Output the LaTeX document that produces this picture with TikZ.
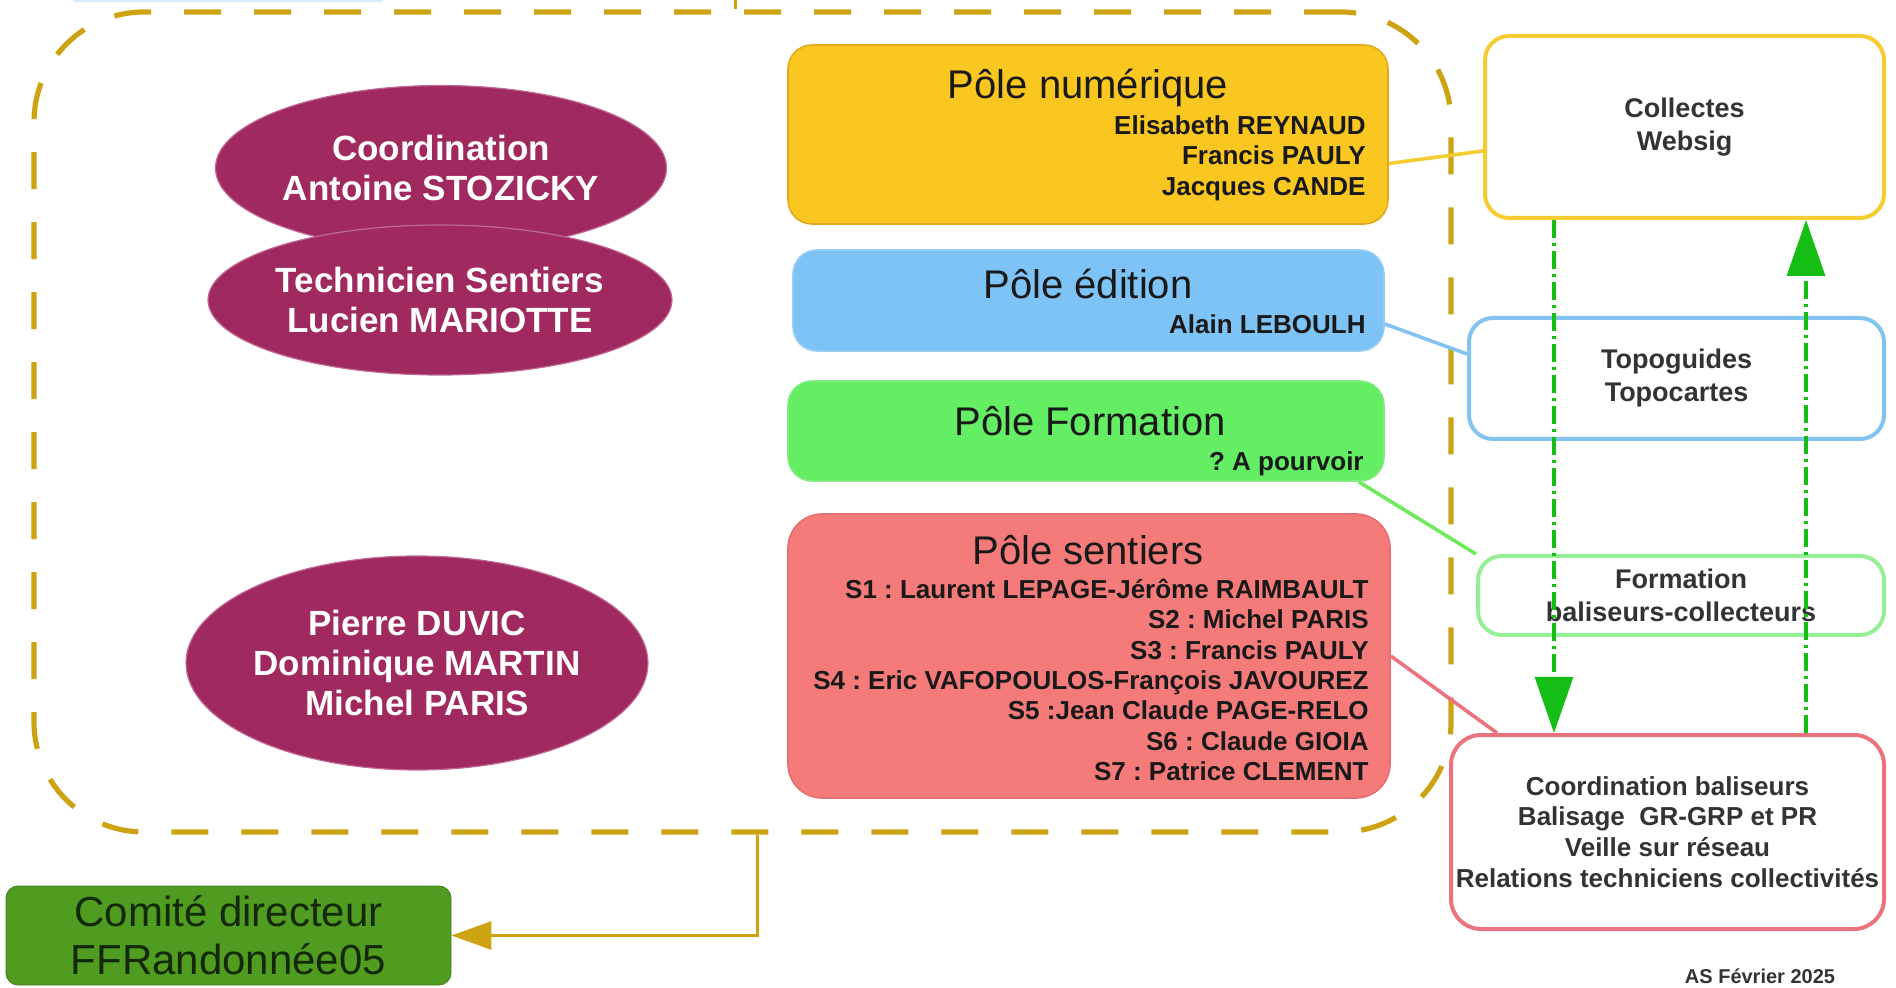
\documentclass[tikz,border=0pt]{standalone}
\usepackage{fontspec}
\setmainfont{Liberation Sans}
\usetikzlibrary{shapes.geometric,arrows.meta,calc}
\frenchspacing

\definecolor{teamgold}{RGB}{205,163,20}
\definecolor{plum}{RGB}{160,42,96}
\definecolor{plumedge}{RGB}{190,105,150}
\definecolor{numfill}{RGB}{250,199,32}
\definecolor{numdraw}{RGB}{222,170,30}
\definecolor{edfill}{RGB}{125,195,245}
\definecolor{eddraw}{RGB}{150,205,245}
\definecolor{formfill}{RGB}{100,238,100}
\definecolor{formdraw}{RGB}{130,235,130}
\definecolor{formlink}{RGB}{110,235,90}
\definecolor{sentfill}{RGB}{245,122,122}
\definecolor{sentdraw}{RGB}{230,110,110}
\definecolor{taskyellow}{RGB}{245,205,50}
\definecolor{taskblue}{RGB}{130,195,240}
\definecolor{taskgreen}{RGB}{150,238,150}
\definecolor{taskpink}{RGB}{235,115,125}
\definecolor{arrowgreen}{RGB}{20,190,20}
\definecolor{comitefill}{RGB}{80,156,32}
\definecolor{comitetext}{RGB}{20,40,10}
\definecolor{topblue}{RGB}{215,235,252}

\begin{document}
\begin{tikzpicture}[x=0.5pt,y=0.5pt,yscale=-1,
	teambox/.style={draw=teamgold, rounded corners=55pt, line width=2.6pt, dash pattern=on 18.5pt off 16.5pt},
	pole/.style={draw, rounded corners=12pt, line width=0.8pt, inner sep=0pt},
	poletitle/.style={font=\fontsize{20}{24}\selectfont, text=black!90, inner sep=0pt},
	names/.style={font=\bfseries\fontsize{13}{15.2}\selectfont, align=right, anchor=east, inner sep=0pt, text=black!90},
	people/.style={ellipse, fill=plum, draw=plumedge, line width=0.6pt, text=white, font=\bfseries\fontsize{17.5}{20}\selectfont, align=center, inner sep=0pt},
	task/.style={draw, fill=white, rounded corners=12pt, line width=2pt, align=center, font=\bfseries\fontsize{13.5}{16.5}\selectfont, text=black!80, inner sep=0pt},
	link/.style={line width=1.8pt},
	flow/.style={draw=arrowgreen, line width=1.6pt, dash pattern=on 9pt off 2.5pt on 1.5pt off 2.5pt, -{Triangle[length=28pt,width=19pt]}},
	goldline/.style={draw=teamgold, line width=1.5pt}]
	\useasboundingbox (0,0) rectangle (1896,988);
	\fill[topblue] (73,0) rectangle (383,2.5);

	% equipe
	\node[teambox, minimum width=708.5pt, minimum height=410pt] (team) at (742.5,422) {};
	\coordinate (topin) at (735,0);
	\draw[goldline] (topin) -- (topin |- team.north);

	\node[people, minimum width=225.5pt, minimum height=82.5pt] (coord1) at (441,168) {Coordination\\Antoine STOZICKY};
	\node[people, minimum width=231pt, minimum height=75pt] (tech) at (440,300) {Technicien Sentiers\\Lucien MARIOTTE};
	\node[people, minimum width=230pt, minimum height=107pt] (membres) at (417,663) {Pierre DUVIC\\Dominique MARTIN\\Michel PARIS};

	% poles
	\node[pole, fill=numfill, draw=numdraw, minimum width=300pt, minimum height=89.5pt] (num) at (1088,134.5) {};
	\node[poletitle] (numtitle) at (1088,88) {Pôle numérique};
	\node[names] (numnames) at (1366,158) {Elisabeth REYNAUD\\Francis PAULY\\Jacques CANDE};

	\node[pole, fill=edfill, draw=eddraw, minimum width=295.5pt, minimum height=50.5pt] (ed) at (1088.5,300.5) {};
	\node[poletitle] (edtitle) at (1088,284) {Pôle édition};
	\node[names] (ednames) at (1366,324) {Alain LEBOULH};

	\node[pole, fill=formfill, draw=formdraw, minimum width=298pt, minimum height=50pt] (polef) at (1086,431) {};
	\node[poletitle] (formtitle) at (1090,421) {Pôle Formation};
	\node[names] (formnames) at (1364,464) {? A pourvoir};

	\node[pole, fill=sentfill, draw=sentdraw, rounded corners=17pt, minimum width=301pt, minimum height=142pt] (sent) at (1089,656) {};
	\node[poletitle] (senttitle) at (1088,550) {Pôle sentiers};
	\node[names] (sentnames) at (1369,680) {S1 : Laurent LEPAGE-Jérôme RAIMBAULT\\S2 : Michel PARIS\\S3 : Francis PAULY\\S4 : Eric VAFOPOULOS-François JAVOUREZ\\S5 :Jean Claude PAGE-RELO\\S6 : Claude GIOIA\\S7 : Patrice CLEMENT};

	% missions
	\node[task, draw=taskyellow, minimum width=199.5pt, minimum height=91pt] (coll) at (1684.5,127) {Collectes\\Websig};
	\node[task, draw=taskblue, minimum width=207.5pt, minimum height=60.5pt] (topo) at (1676.5,378.5) {Topoguides\\Topocartes};
	\node[task, draw=taskgreen, minimum width=203pt, minimum height=39.5pt] (form) at (1681,595.5) {Formation\\baliseurs-collecteurs};
	\node[task, draw=taskpink, rounded corners=15pt, minimum width=216.5pt, minimum height=97pt, font=\bfseries\fontsize{13}{15.3}\selectfont] (coord) at (1667.5,832) {Coordination baliseurs\\Balisage~ GR-GRP et PR\\Veille sur réseau\\Relations techniciens collectivités};

	\draw[link, draw=taskyellow] ($(num.east)+(0,29)$) -- ($(coll.west)+(0,24)$);
	\draw[link, draw=taskblue] ($(ed.east)+(0,23.5)$) -- ($(topo.west)+(0,-24.5)$);
	\draw[link, draw=formlink] ($(polef.south east)+(-26,0)$) -- (form.north west);
	\draw[link, draw=taskpink] (sent.east) -- ($(coord.north west)+(48,0)$);

	\draw[flow] ($(coll.south west)+(71,0)$) -- ($(coord.north west)+(105,0)$);
	\draw[flow] ($(coord.north west)+(357,0)$) -- ($(coll.south west)+(323,0)$);

	% comite
	\node[draw=comitefill!80!black, fill=comitefill, rounded corners=6pt, minimum width=222.5pt, minimum height=49.5pt, font=\fontsize{21}{24}\selectfont, text=comitetext, align=center, inner sep=0pt] (comite) at (228.5,935.5) {Comité directeur\\FFRandonnée05};
	\draw[goldline, -{Triangle[length=20pt,width=14pt]}] ($(team.south)+(14.5,0)$) |- (comite.east);

	\node[font=\bfseries\fontsize{10}{12}\selectfont, text=black!80, inner sep=0pt] (auteur) at (1760,976) {AS Février 2025};
\end{tikzpicture}
\end{document}
